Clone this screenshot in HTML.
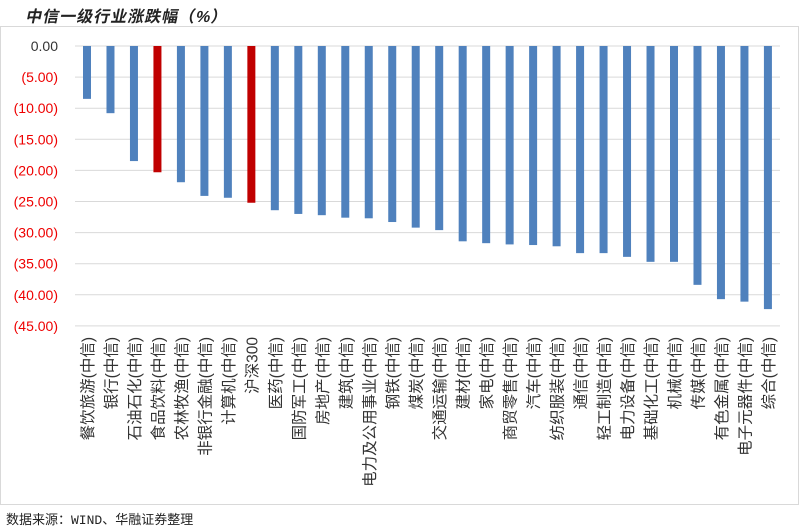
<!DOCTYPE html>
<html><head><meta charset="utf-8"><style>
body{margin:0;width:800px;height:529px;background:#fff;overflow:hidden;position:relative;font-family:"Liberation Sans","Noto Sans CJK SC",sans-serif}
.t{position:absolute;left:24px;top:3px;font-size:16px;font-weight:bold;color:#222;letter-spacing:1px;transform:skewX(-12deg);transform-origin:left bottom}
.f{position:absolute;left:6px;top:509px;font-size:13px;color:#222;font-family:"Liberation Mono","Noto Sans CJK SC",monospace}
</style></head><body>
<div class="t">中信一级行业涨跌幅（%）</div>
<svg width="800" height="529" style="position:absolute;left:0;top:0;font-family:'Liberation Sans','Noto Sans CJK SC',sans-serif">
<rect x="0.5" y="26.5" width="798" height="478" fill="none" stroke="#d9d9d9"/>
<g id="g"></g>
</svg>
<div class="f">数据来源：WIND、华融证券整理</div>
<script>
var v=[8.5,10.8,18.5,20.3,21.9,24.1,24.4,25.2,26.4,27,27.2,27.6,27.7,28.3,29.2,29.6,31.4,31.7,31.9,32,32.2,33.3,33.3,33.9,34.7,34.7,38.4,40.7,41.1,42.3];
var n=["餐饮旅游(中信)","银行(中信)","石油石化(中信)","食品饮料(中信)","农林牧渔(中信)","非银行金融(中信)","计算机(中信)","沪深300","医药(中信)","国防军工(中信)","房地产(中信)","建筑(中信)","电力及公用事业(中信)","钢铁(中信)","煤炭(中信)","交通运输(中信)","建材(中信)","家电(中信)","商贸零售(中信)","汽车(中信)","纺织服装(中信)","通信(中信)","轻工制造(中信)","电力设备(中信)","基础化工(中信)","机械(中信)","传媒(中信)","有色金属(中信)","电子元器件(中信)","综合(中信)"];
var s='';
for(var i=0;i<=9;i++){var y=46+i*31.1;s+='<line x1="75" x2="780" y1="'+y+'" y2="'+y+'" stroke="#d9d9d9" stroke-width="1"/>';
s+='<text x="58" y="'+(y+5)+'" text-anchor="end" font-size="14" fill="'+(i?'#e00':'#333')+'">'+(i?'('+(i*5)+'.00)':'0.00')+'</text>';}
for(var i=0;i<30;i++){var c=87+i*23.48;var red=(i==3||i==7);
s+='<rect x="'+(c-4)+'" y="46" width="8" height="'+(v[i]*6.22)+'" fill="'+(red?'#c00000':'#4f81bd')+'"/>';
s+='<text transform="translate('+(c+6)+',337) rotate(-90)" text-anchor="end" font-size="15.5" fill="#333">'+n[i]+'</text>';}
document.getElementById('g').innerHTML=s;
</script>
</body></html>
